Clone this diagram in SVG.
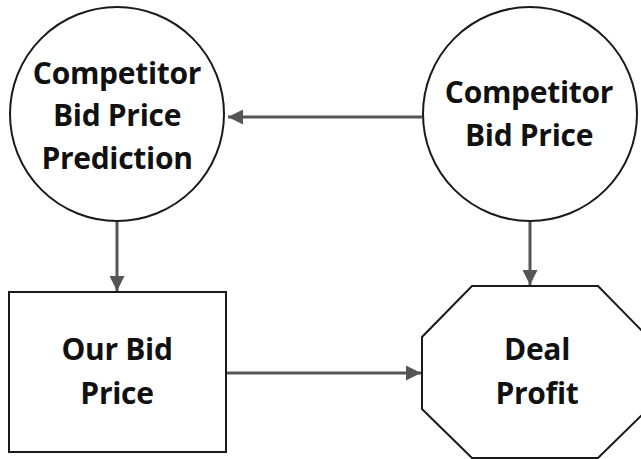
<svg xmlns="http://www.w3.org/2000/svg" width="641" height="459" viewBox="0 0 641 459">
  <style>
    .node { fill: #ffffff; stroke: #1a1a1a; stroke-width: 2; }
    .label { font-family: "Open Sans", "Liberation Sans", sans-serif; font-weight: bold; font-size: 30px; letter-spacing: -0.3px; fill: #111111; text-anchor: middle; }
    .edge { stroke: #555555; stroke-width: 3; fill: none; marker-end: url(#arrow); }
  </style>
  <defs>
    <marker id="arrow" markerWidth="5" markerHeight="5" refX="5" refY="2.5" orient="auto" markerUnits="strokeWidth">
      <path d="M0,0 L5,2.5 L0,5 Z" fill="#555555"/>
    </marker>
  </defs>

  <rect width="641" height="459" fill="#ffffff"/>

  <g id="connectors">
    <line class="edge" x1="422" y1="117" x2="228" y2="117"/>
    <line class="edge" x1="117" y1="221" x2="117" y2="291"/>
    <line class="edge" x1="530" y1="221" x2="530" y2="285"/>
    <line class="edge" x1="227" y1="373" x2="421" y2="373"/>
  </g>

  <g id="competitor-bid-price-prediction">
    <circle class="node" cx="117" cy="114" r="107"/>
    <text class="label" x="117" y="84">Competitor</text>
    <text class="label" x="117" y="126">Bid Price</text>
    <text class="label" x="117" y="169">Prediction</text>
  </g>

  <g id="competitor-bid-price">
    <circle class="node" cx="530" cy="114" r="107"/>
    <text class="label" x="529" y="103">Competitor</text>
    <text class="label" x="529" y="146">Bid Price</text>
  </g>

  <g id="our-bid-price">
    <rect class="node" x="9" y="292" width="217" height="160"/>
    <text class="label" x="117" y="360">Our Bid</text>
    <text class="label" x="117" y="404">Price</text>
  </g>

  <g id="deal-profit">
    <polygon class="node" points="472,286 598,286 648,337 648,409 598,458 472,458 422,409 422,337"/>
    <text class="label" x="537" y="360">Deal</text>
    <text class="label" x="537" y="404">Profit</text>
  </g>
</svg>
